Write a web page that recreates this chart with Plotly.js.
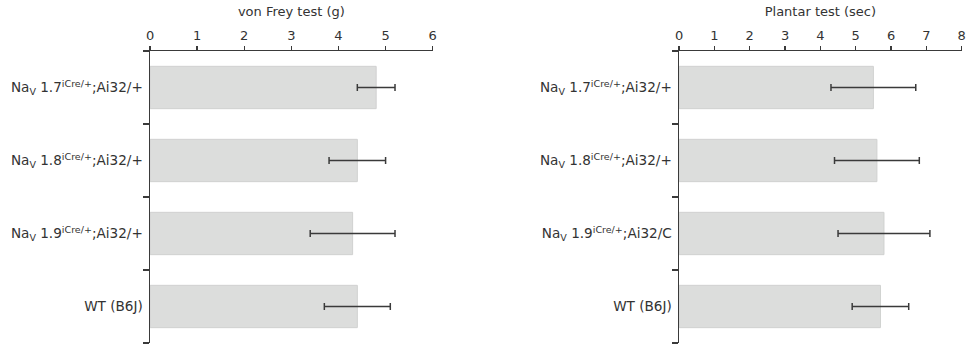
<!DOCTYPE html>
<html>
<head>
<meta charset="utf-8">
<script src="https://cdn.plot.ly/plotly-3.0.1.min.js"></script>
<style>html,body{margin:0;padding:0;background:#fff;}#chart{width:968px;height:347px;}</style>
</head>
<body>
<div id="chart"></div>
<script>
// Data
const vonFreyLabels = [
  "Na<sub>V</sub> 1.7<sup>iCre/+</sup>;Ai32/+",
  "Na<sub>V</sub> 1.8<sup>iCre/+</sup>;Ai32/+",
  "Na<sub>V</sub> 1.9<sup>iCre/+</sup>;Ai32/+",
  "WT (B6J)"
];
const vonFreyMeans = [4.8, 4.4, 4.3, 4.4];
const vonFreyErrs  = [0.4, 0.6, 0.9, 0.7];

const plantarLabels = [
  "Na<sub>V</sub> 1.7<sup>iCre/+</sup>;Ai32/+",
  "Na<sub>V</sub> 1.8<sup>iCre/+</sup>;Ai32/+",
  "Na<sub>V</sub> 1.9<sup>iCre/+</sup>;Ai32/C",
  "WT (B6J)"
];
const plantarMeans = [5.5, 5.6, 5.8, 5.7];
const plantarErrs  = [1.2, 1.2, 1.3, 0.8];

const vonFreyTicks = [0, 1, 2, 3, 4, 5, 6];
const plantarTicks = [0, 1, 2, 3, 4, 5, 6, 7, 8];
// category boundaries (ticks between groups)
const boundaryTicks = [-0.5, 0.5, 1.5, 2.5, 3.5];

const FONT = "DejaVu Sans, Open Sans, sans-serif";
const AX = "#3a3a3a";
const TXT = "#333";

function barTrace(labels, means, errs, xa, ya) {
  return {
    type: "bar", orientation: "h",
    y: labels, x: means,
    xaxis: xa, yaxis: ya,
    width: 0.58,
    marker: {color: "#dcdddc", line: {color: "#d0d1d0", width: 1}},
    error_x: {type: "data", array: errs, visible: true, color: AX, thickness: 1.5, width: 3.5},
    hoverinfo: "skip"
  };
}

function helperTrace(xa, ya) {
  return {type: "scatter", mode: "markers", x: [], y: [], xaxis: xa, yaxis: ya, hoverinfo: "skip", showlegend: false};
}

function xAxis(domain, maxv, ticks, title, anchor) {
  return {
    domain: domain, anchor: anchor, side: "top",
    range: [0, maxv], tickvals: ticks, ticktext: ticks.map(String),
    showgrid: false, zeroline: false,
    showline: true, linecolor: AX, linewidth: 1.5,
    ticks: "outside", ticklen: 4, tickwidth: 1.5, tickcolor: AX,
    tickfont: {family: FONT, size: 13, color: TXT},
    title: {text: title, font: {family: FONT, size: 13, color: TXT}, standoff: 8},
    fixedrange: true
  };
}

function yAxis(anchor) {
  return {
    domain: [0, 1], anchor: anchor,
    type: "category", autorange: "reversed",
    showgrid: false, zeroline: false,
    showline: true, linecolor: AX, linewidth: 1.5,
    ticks: "", ticklabelstandoff: 3,
    tickfont: {family: FONT, size: 13.6, color: TXT},
    fixedrange: true
  };
}

function yTickAxis(anchor, over) {
  return {
    domain: [0, 1], anchor: anchor, overlaying: over, side: "left",
    range: [3.5, -0.5], tickvals: boundaryTicks,
    showticklabels: false,
    showgrid: false, zeroline: false, showline: false,
    ticks: "outside", ticklen: 6, tickwidth: 1.5, tickcolor: AX,
    fixedrange: true
  };
}

const data = [
  barTrace(vonFreyLabels, vonFreyMeans, vonFreyErrs, "x", "y"),
  barTrace(plantarLabels, plantarMeans, plantarErrs, "x2", "y2"),
  helperTrace("x", "y3"),
  helperTrace("x2", "y4")
];

const layout = {
  width: 968, height: 347,
  margin: {l: 0, r: 0, t: 51, b: 4},
  paper_bgcolor: "#fff", plot_bgcolor: "#fff",
  showlegend: false,
  xaxis: xAxis([0.155, 0.447], 6, vonFreyTicks, "von Frey test (g)", "y"),
  yaxis: yAxis("x"),
  xaxis2: xAxis([0.7015, 0.9935], 8, plantarTicks, "Plantar test (sec)", "y2"),
  yaxis2: yAxis("x2"),
  yaxis3: yTickAxis("x", "y"),
  yaxis4: yTickAxis("x2", "y2")
};

Plotly.newPlot("chart", data, layout, {displayModeBar: false, staticPlot: true});
</script>
</body>
</html>
